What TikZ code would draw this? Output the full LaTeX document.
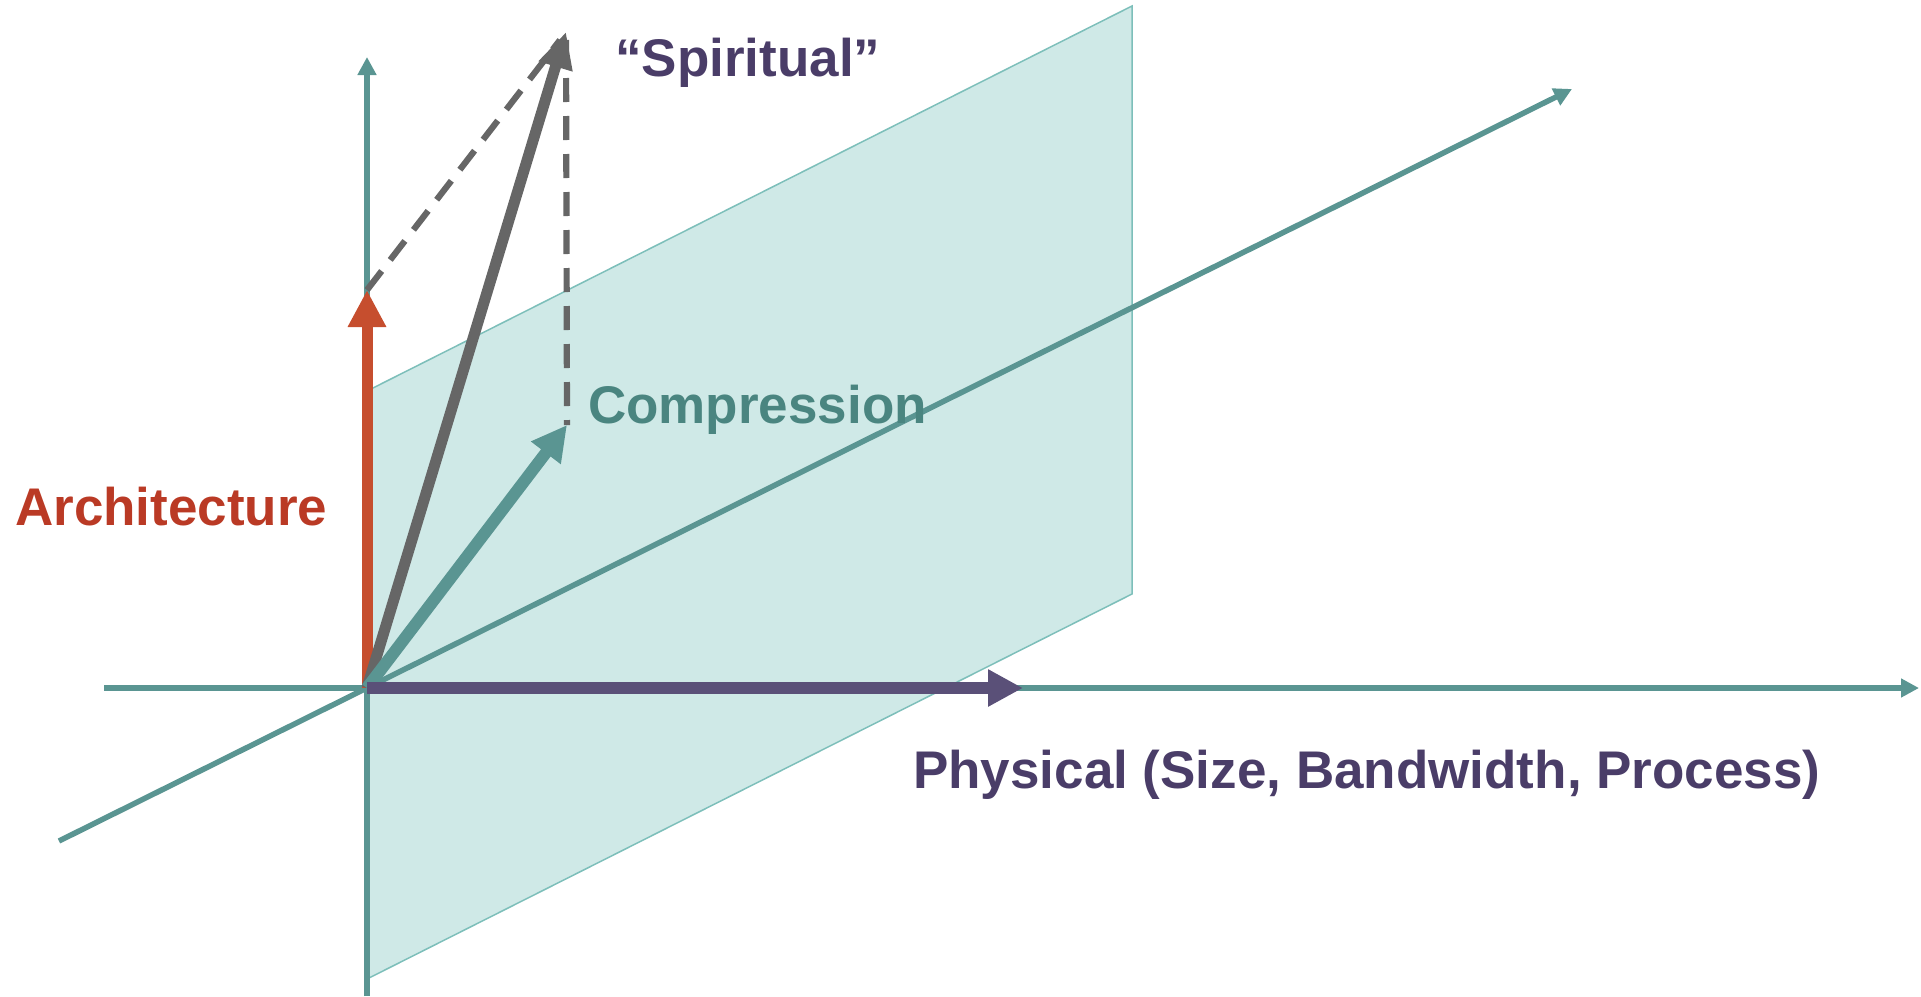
\documentclass[tikz,border=0pt]{standalone}
\usepackage{fontspec}
\setmainfont{Liberation Sans}
\usetikzlibrary{arrows.meta}
\definecolor{axisteal}{HTML}{5A9592}
\definecolor{planefill}{HTML}{CFE9E7}
\definecolor{planeedge}{HTML}{7DBFBA}
\definecolor{archred}{HTML}{C64E2E}
\definecolor{archtext}{HTML}{BA3A25}
\definecolor{spgray}{HTML}{666666}
\definecolor{comptext}{HTML}{4A8580}
\definecolor{physpurple}{HTML}{5A5078}
\definecolor{purpletext}{HTML}{4A3D68}
\tikzset{
  axisline/.style={line width=5.5pt, axisteal, -{Triangle[length=18pt,width=18pt]}},
  bigarrow/.style={-{Triangle[length=35pt,width=35pt]}},
  dashline/.style={line width=6.2pt, spgray, dash pattern=on 24pt off 14pt},
  lbl/.style={inner sep=0pt, anchor=base west, font=\fontsize{53}{60}\selectfont\bfseries}
}
\begin{document}
\begin{tikzpicture}[x=1pt,y=-1pt]
\useasboundingbox (0,0) rectangle (1921,996);
% coordinates
\coordinate (O) at (367,688);
\coordinate (pA) at (367,391);
\coordinate (pB) at (1132,6);
\coordinate (pC) at (1132,594);
\coordinate (pD) at (367,979);
\coordinate (hL) at (104,688);
\coordinate (hR) at (1919,688);
\coordinate (vB) at (367,996);
\coordinate (vT) at (367,57);
\coordinate (dL) at (59,841);
\coordinate (dR) at (1572,89);
\coordinate (archTip) at (367,290);
\coordinate (spTip) at (566,32);
\coordinate (dashEnd) at (560,40);
\coordinate (vdTop) at (566,40);
\coordinate (compTip) at (567,425);
\coordinate (physTip) at (1023,688);
% plane
\filldraw[fill=planefill, draw=planeedge, line width=1.5pt] (pA) -- (pB) -- (pC) -- (pD) -- cycle;
% axes
\draw[axisline] (hL) -- (hR);
\draw[axisline] (vB) -- (vT);
\draw[axisline] (dL) -- (dR);
% dashed lines
\draw[dashline] (archTip) -- (dashEnd);
\draw[dashline] (vdTop) -- (compTip);
% vectors
\draw[line width=11pt, archred, -{Triangle[length=37pt,width=36pt]}] (O) -- (archTip);
\draw[line width=11pt, spgray, -{Triangle[length=36pt,width=33pt]}] (O) -- (spTip);
\draw[line width=12pt, axisteal, bigarrow] (O) -- (compTip);
\draw[line width=12pt, physpurple, bigarrow] (O) -- (physTip);
% labels
\node[lbl, text=purpletext] (spiritual) at (615,76) {“Spiritual”};
\node[lbl, text=comptext] (compression) at (588,423) {Compression};
\node[lbl, text=archtext] (architecture) at (15,525) {Architecture};
\node[lbl, text=purpletext] (physical) at (913,788) {Physical (Size, Bandwidth, Process)};
\end{tikzpicture}
\end{document}
